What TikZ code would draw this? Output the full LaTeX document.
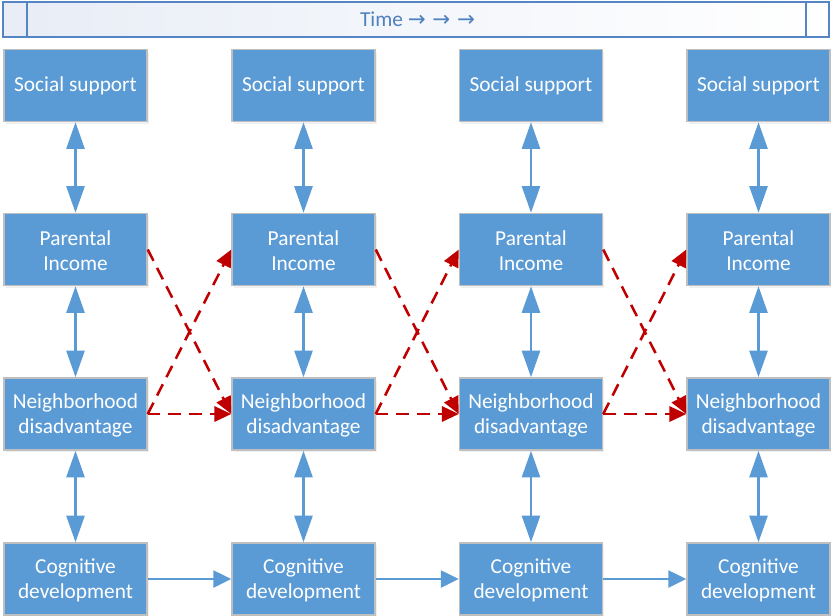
\documentclass[tikz,border=0pt]{standalone}
\usepackage{fontspec}
\setmainfont{Carlito}
\newfontfamily\arrowfont{DejaVu Sans}
\usetikzlibrary{arrows.meta,shadows}
\definecolor{boxblue}{HTML}{5B9BD5}
\definecolor{boxedge}{HTML}{BFBFBF}
\definecolor{darkred}{HTML}{C00000}
\definecolor{barblue}{HTML}{5585C2}
\definecolor{barfill}{HTML}{E8EDF6}
\definecolor{timetext}{HTML}{4F80BF}
\tikzset{
  box/.style={rectangle, draw=boxedge, line width=1.1pt, fill=boxblue,
    text=white, align=center, minimum width=107.25pt, minimum height=54pt,
    inner sep=0pt, font=\fontsize{16}{19}\selectfont,
    drop shadow={opacity=0.12, shadow xshift=1.2pt, shadow yshift=-1.5pt}},
  vlink/.style={draw=boxblue, line width=2pt,
    {Triangle[width=13.5pt,length=20pt]}-{Triangle[width=13.5pt,length=20pt]}},
  hlink/.style={draw=boxblue, line width=1.9pt,
    -{Triangle[width=12.75pt,length=13.5pt]}},
  rlink/.style={draw=darkred, line width=1.9pt, dash pattern=on 9.5pt off 6pt,
    -{Triangle[width=11.5pt,length=12.75pt]}}
}
\begin{document}
\begin{tikzpicture}[x=0.75pt,y=-0.75pt]
\useasboundingbox (0,0) rectangle (831,615);
% top bar
\path[left color=barfill, right color=white] (3,2) rectangle (829,37);
\fill[barfill] (3,2) rectangle (27,37);
\draw[barblue, line width=1.1pt] (3,2) rectangle (829,37);
\draw[barblue, line width=1.1pt] (27,2) -- (27,37);
\draw[barblue, line width=1.1pt] (806,2) -- (806,37);
\node[text=timetext, font=\fontsize{16}{19}\selectfont, inner sep=0pt] (time) at (417.5,19.5) {Time {\arrowfont\fontsize{16}{19}\selectfont→ → →}};
% boxes
\foreach \i/\x in {1/75.5, 2/303.5, 3/531, 4/758.5} {
  \node[box] (s\i) at (\x,85.5) {Social support};
  \node[box] (p\i) at (\x,249.5) {\strut Parental\\Income};
  \node[box] (n\i) at (\x,414) {\strut Neighborhood\\disadvantage};
  \node[box] (c\i) at (\x,579) {\strut Cognitive\\development};
}
% vertical links
\foreach \i in {1,2,3,4} {
  \draw[vlink] (s\i) -- (p\i);
  \draw[vlink] (p\i) -- (n\i);
  \draw[vlink] (n\i) -- (c\i);
}
% horizontal cognitive links and red dashed links
\foreach \i/\j in {1/2, 2/3, 3/4} {
  \draw[hlink] (c\i) -- (c\j);
  \draw[rlink] (p\i.east) -- (n\j.west);
  \draw[rlink] (n\i.east) -- (p\j.west);
  \draw[rlink] (n\i.east) -- (n\j.west);
}
\end{tikzpicture}
\end{document}
